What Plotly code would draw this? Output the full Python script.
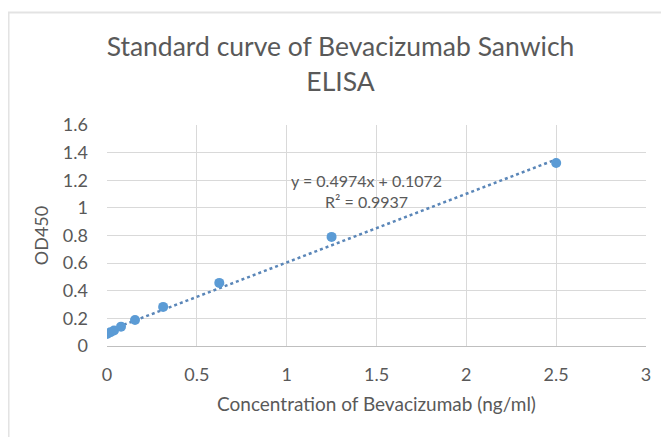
import plotly.graph_objects as go

conc = [0, 0.0195, 0.039, 0.078, 0.156, 0.3125, 0.625, 1.25, 2.5]
od450 = [0.087, 0.100, 0.112, 0.140, 0.188, 0.283, 0.457, 0.790, 1.325]
trend_x = [0, 2.5]
trend_y = [0.1072, 1.3507]
eq_text = "y = 0.4974x + 0.1072<br>R² = 0.9937"
x_ticks = [0, 0.5, 1, 1.5, 2, 2.5, 3]
y_ticks = [0, 0.2, 0.4, 0.6, 0.8, 1, 1.2, 1.4, 1.6]

FONT = "Lato"
GREY = "#595959"

fig = go.Figure()
fig.add_trace(go.Scatter(x=trend_x, y=trend_y, mode="lines",
                         line=dict(color="#5a86b8", width=2.5, dash="dot"),
                         showlegend=False, hoverinfo="skip"))
fig.add_trace(go.Scatter(x=conc, y=od450, mode="markers",
                         marker=dict(color="#5B9BD5", size=10),
                         showlegend=False))

fig.add_annotation(x=1.447, y=1.12, xref="x", yref="y", text=eq_text,
                   showarrow=False, font=dict(family=FONT, size=16, color=GREY),
                   align="center")

fig.add_shape(type="rect", xref="paper", yref="paper",
              x0=-0.1827, x1=1.078, y0=-0.507, y1=1.509,
              line=dict(color="#e3e3e3", width=2), fillcolor="rgba(0,0,0,0)",
              layer="below")

fig.update_layout(
    width=669, height=437,
    margin=dict(l=99, r=31, t=117, b=99),
    paper_bgcolor="white", plot_bgcolor="white",
    font=dict(family=FONT, color=GREY, size=18),
    title=dict(text="Standard curve of Bevacizumab Sanwich<br>ELISA",
               x=0.497, xanchor="center", y=0.89, yanchor="middle",
               font=dict(family=FONT, size=26.5, color=GREY)),
    xaxis=dict(range=[0, 3], tickvals=x_ticks,
               ticktext=[f"{v:g}" for v in x_ticks],
               showgrid=True, gridcolor="#d9d9d9", gridwidth=1,
               zeroline=False, showline=True, linecolor="#bfbfbf",
               ticks="", ticklabelstandoff=12, automargin=False,
               title=dict(text="Concentration of Bevacizumab (ng/ml)",
                          font=dict(family=FONT, size=19, color=GREY), standoff=14)),
    yaxis=dict(range=[0, 1.6], tickvals=y_ticks,
               ticktext=[f"{v:g}" for v in y_ticks],
               showgrid=True, gridcolor="#d9d9d9", gridwidth=1,
               zeroline=False, showline=False, ticks="", ticklabelstandoff=18,
               automargin=False,
               title=dict(text="OD450", font=dict(family=FONT, size=18, color=GREY),
                          standoff=9)),
)

fig.write_html("out.html")
